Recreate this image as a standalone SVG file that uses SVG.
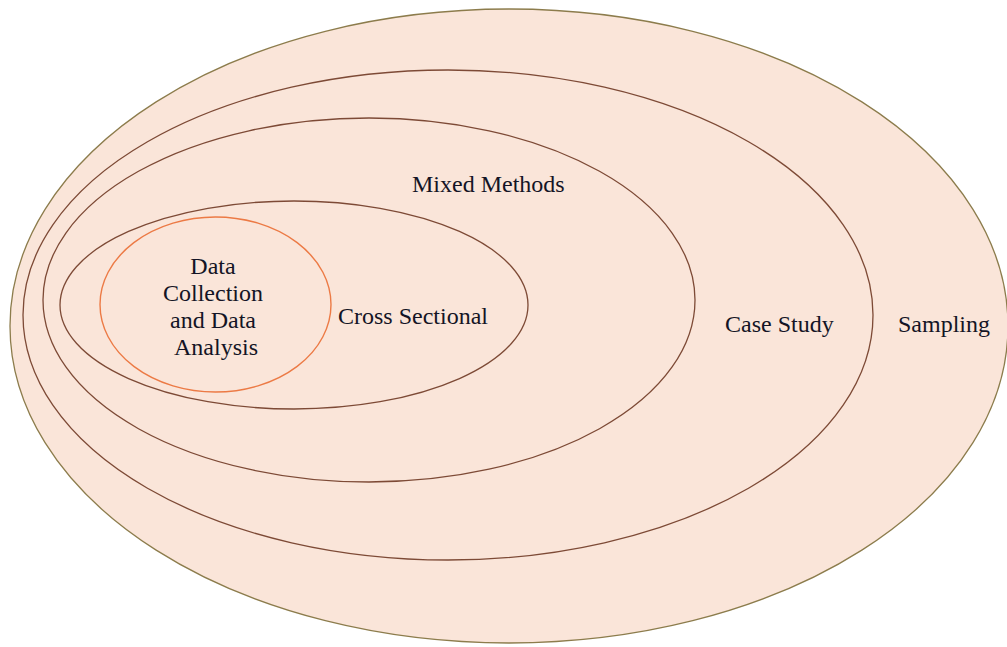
<svg xmlns="http://www.w3.org/2000/svg" width="1007" height="647" viewBox="0 0 1007 647">
  <style>
    .ring { fill: #fae5d9; stroke: #7d4a36; stroke-width: 1.3; }
    .outer { stroke: #8c7c4c; stroke-width: 1.3; }
    .core { stroke: #ec7a45; stroke-width: 1.4; }
    .lbl { font-family: "Liberation Serif", "Times New Roman", serif; font-size: 24px; fill: #141425; }
  </style>
  <rect width="1007" height="647" fill="#ffffff"/>

  <g id="sampling">
    <ellipse class="ring outer" cx="509" cy="326" rx="499" ry="317"/>
    <text class="lbl" x="898" y="332">Sampling</text>
  </g>

  <g id="case-study">
    <ellipse class="ring" cx="448" cy="315" rx="425" ry="245"/>
    <text class="lbl" x="725" y="332">Case Study</text>
  </g>

  <g id="mixed-methods">
    <ellipse class="ring" cx="369" cy="300" rx="326" ry="182"/>
    <text class="lbl" x="412" y="192">Mixed Methods</text>
  </g>

  <g id="cross-sectional">
    <ellipse class="ring" cx="294" cy="305" rx="234" ry="104"/>
    <text class="lbl" x="338" y="324">Cross Sectional</text>
  </g>

  <g id="data-collection">
    <ellipse class="ring core" cx="215.5" cy="304.5" rx="115.5" ry="87.5"/>
    <text class="lbl" text-anchor="middle">
      <tspan x="216" y="274">Data</tspan>
      <tspan x="216" y="301">Collection</tspan>
      <tspan x="216" y="328">and Data</tspan>
      <tspan x="216" y="355">Analysis</tspan>
    </text>
  </g>

  <g id="connectors"/>
</svg>
